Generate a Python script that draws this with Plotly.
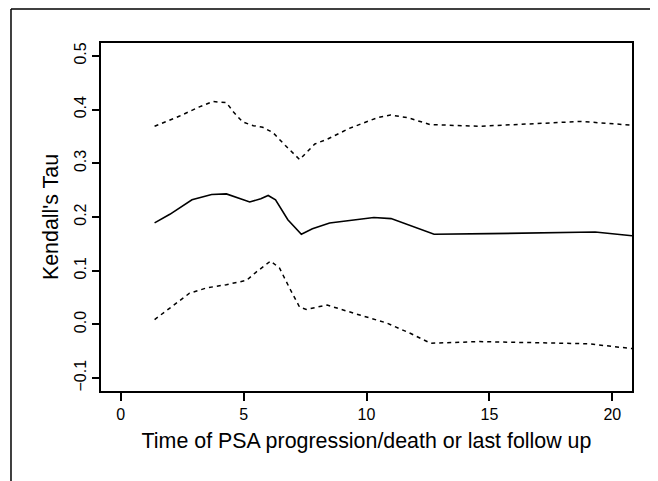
import plotly.graph_objects as go

# Data
x_mid = [1.38, 2.0, 2.9, 3.7, 4.3, 4.8, 5.25, 5.7, 6.0, 6.3, 6.8, 7.35, 7.8, 8.5, 9.3, 10.3, 11.0, 12.75, 15.0, 17.0, 19.3, 20.8]
tau_mid = [0.189, 0.205, 0.232, 0.242, 0.243, 0.235, 0.228, 0.234, 0.240, 0.232, 0.195, 0.168, 0.178, 0.189, 0.194, 0.199, 0.197, 0.168, 0.169, 0.170, 0.172, 0.165]

x_upper = [1.38, 2.4, 3.2, 3.74, 4.3, 4.6, 4.96, 5.4, 5.78, 6.2, 6.7, 7.28, 7.9, 8.41, 9.3, 10.45, 10.98, 11.67, 12.6, 14.63, 16.5, 18.7, 20.8]
tau_upper = [0.369, 0.388, 0.405, 0.415, 0.413, 0.395, 0.377, 0.370, 0.367, 0.357, 0.333, 0.307, 0.336, 0.345, 0.365, 0.385, 0.390, 0.385, 0.372, 0.369, 0.373, 0.378, 0.371]

x_lower = [1.38, 2.0, 2.8, 3.5, 4.3, 5.12, 5.5, 6.1, 6.46, 6.9, 7.28, 7.55, 8.4, 9.76, 10.8, 11.8, 12.6, 14.6, 17.0, 19.0, 20.8]
tau_lower = [0.009, 0.030, 0.058, 0.068, 0.074, 0.082, 0.097, 0.118, 0.105, 0.065, 0.032, 0.028, 0.036, 0.017, 0.003, -0.017, -0.035, -0.032, -0.034, -0.036, -0.045]

x_ticks = [0, 5, 10, 15, 20]
y_ticks = [-0.1, 0.0, 0.1, 0.2, 0.3, 0.4, 0.5]
y_tick_labels = ["\u22120.1", "0.0", "0.1", "0.2", "0.3", "0.4", "0.5"]

FONT = "Liberation Sans, Arial, Helvetica, sans-serif"

fig = go.Figure()
fig.add_trace(go.Scatter(x=x_upper, y=tau_upper, mode="lines",
                         line=dict(color="black", width=1.5, dash="4px,4px"), showlegend=False))
fig.add_trace(go.Scatter(x=x_mid, y=tau_mid, mode="lines",
                         line=dict(color="black", width=1.6), showlegend=False))
fig.add_trace(go.Scatter(x=x_lower, y=tau_lower, mode="lines",
                         line=dict(color="black", width=1.5, dash="4px,4px"), showlegend=False))

fig.update_layout(
    width=650, height=473,
    margin=dict(l=93, r=26, t=35, b=90),
    paper_bgcolor="white", plot_bgcolor="white",
    font=dict(family=FONT, color="black"),
    xaxis=dict(
        range=[-0.8, 20.8], tickvals=x_ticks, ticktext=[str(v) for v in x_ticks],
        showgrid=False, zeroline=False, showline=True, mirror=True,
        linecolor="black", linewidth=2, ticks="outside", ticklen=8, tickwidth=1.5,
        tickcolor="black", tickfont=dict(size=16), automargin=False,
        title=dict(text="Time of PSA progression/death or last follow up",
                   font=dict(size=21.4), standoff=11),
    ),
    yaxis=dict(
        range=[-0.124, 0.524], tickvals=y_ticks, ticktext=y_tick_labels,
        tickangle=-90, automargin=False,
        showgrid=False, zeroline=False, showline=True, mirror=True,
        linecolor="black", linewidth=2, ticks="outside", ticklen=7, tickwidth=1.5,
        tickcolor="black", tickfont=dict(size=16),
        title=dict(text="Kendall's Tau", font=dict(size=21.4), standoff=7),
    ),
    shapes=[
        dict(type="line", xref="paper", yref="paper", x0=-0.1695, x1=1.06,
             y0=1.0977, y1=1.0977, line=dict(color="black", width=1.5)),
        dict(type="line", xref="paper", yref="paper", x0=-0.1695, x1=-0.1695,
             y0=1.0977, y1=-0.28, line=dict(color="black", width=1.5)),
    ],
)

fig.write_html("out.html")
